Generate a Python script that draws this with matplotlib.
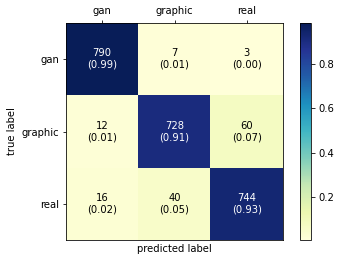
import numpy as np
import matplotlib

matplotlib.use('Agg')
import matplotlib.pyplot as plt

# confusion matrix counts
class_names = ['gan', 'graphic', 'real']
conf_mat = np.array([[790, 7, 3],
                     [12, 728, 60],
                     [16, 40, 744]])

normed = conf_mat.astype(float) / conf_mat.sum(axis=1)[:, np.newaxis]

W, H = 341, 262
fig = plt.figure(figsize=(W / 72, H / 72), dpi=72)
ax = fig.add_axes([66 / W, 1 - 240 / H, (283 - 66) / W, (240 - 23) / H])
cax = fig.add_axes([300 / W, 1 - 240 / H, (311 - 300) / W, (240 - 23) / H])

im = ax.matshow(normed, cmap='YlGnBu', aspect='auto')
cb = fig.colorbar(im, cax=cax)
cb.set_ticks([0.2, 0.4, 0.6, 0.8])

for i in range(normed.shape[0]):
    for j in range(normed.shape[1]):
        txt = '%d\n(%.2f)' % (conf_mat[i, j], normed[i, j])
        color = 'white' if normed[i, j] > 0.5 * normed.max() else 'black'
        ax.text(j, i, txt, ha='center', va='center', color=color, fontsize=10)

ax.set_xticks(range(len(class_names)))
ax.set_yticks(range(len(class_names)))
ax.set_xticklabels(class_names)
ax.set_yticklabels(class_names)
ax.xaxis.set_ticks_position('top')
ax.set_xlabel('predicted label')
ax.set_ylabel('true label')

fig.savefig('out.png', dpi=72)
